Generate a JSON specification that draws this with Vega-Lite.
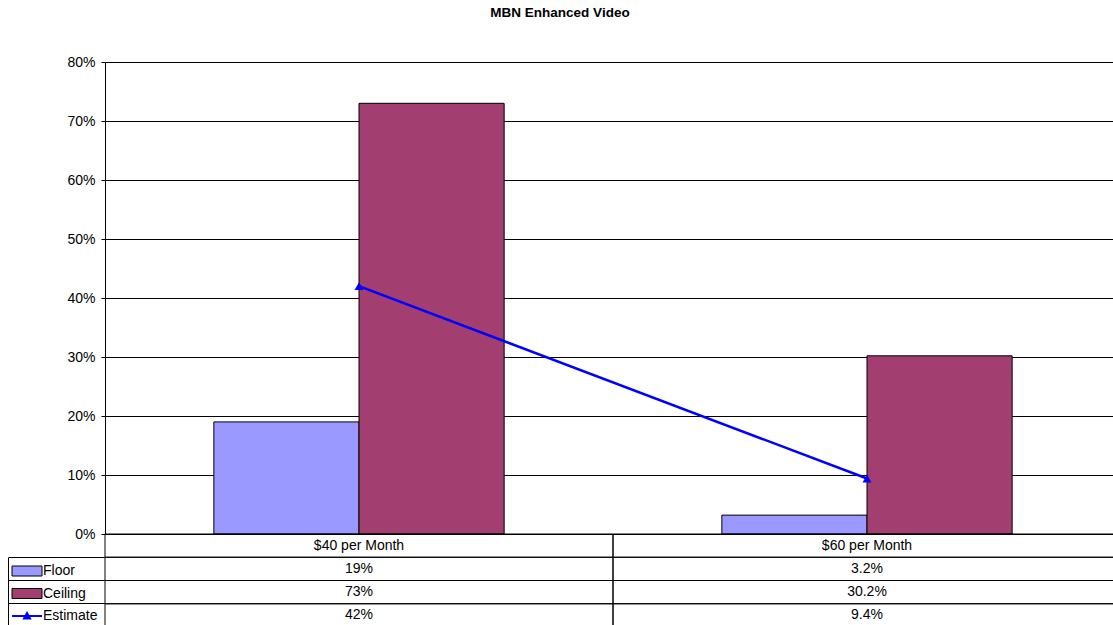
{
  "$schema": "https://vega.github.io/schema/vega-lite/v6.json",
  "width": 1008,
  "height": 563,
  "autosize": {"type": "none"},
  "padding": {"left": 105, "top": 62, "right": 0, "bottom": 0},
  "background": "white",
  "title": {
    "text": "MBN Enhanced Video",
    "font": "Liberation Sans",
    "fontSize": 13.5,
    "fontWeight": "bold",
    "color": "black",
    "anchor": "middle",
    "frame": "group",
    "dx": -49,
    "offset": 36
  },
  "config": {
    "font": "Liberation Sans",
    "view": {"stroke": null}
  },
  "datasets": {
    "values": [
      {"category": "$40 per Month", "series": "Floor", "value": 0.19, "label": "19%"},
      {"category": "$40 per Month", "series": "Ceiling", "value": 0.73, "label": "73%"},
      {"category": "$40 per Month", "series": "Estimate", "value": 0.42, "label": "42%"},
      {"category": "$60 per Month", "series": "Floor", "value": 0.032, "label": "3.2%"},
      {"category": "$60 per Month", "series": "Ceiling", "value": 0.302, "label": "30.2%"},
      {"category": "$60 per Month", "series": "Estimate", "value": 0.094, "label": "9.4%"}
    ],
    "categories": [
      {"category": "$40 per Month"},
      {"category": "$60 per Month"}
    ]
  },
  "data": {"name": "values"},
  "encoding": {
    "x": {
      "field": "category",
      "type": "nominal",
      "axis": null,
      "scale": {
        "domain": ["$40 per Month", "$60 per Month"],
        "range": [0, 1016],
        "paddingInner": 0,
        "paddingOuter": 0
      }
    }
  },
  "layer": [
    {
      "layer": [
        {
          "transform": [{"filter": "datum.series !== 'Estimate'"}],
          "mark": {"type": "bar", "stroke": "black", "strokeWidth": 1, "opacity": 1},
          "encoding": {
            "y": {
              "field": "value",
              "type": "quantitative",
              "scale": {"domain": [0, 0.8], "range": [472, 0], "nice": false, "zero": true},
              "axis": {
                "orient": "left",
                "title": null,
                "values": [0, 0.1, 0.2, 0.3, 0.4, 0.5, 0.6, 0.7, 0.8],
                "format": ".0%",
                "grid": true,
                "gridColor": "#000000",
                "gridOpacity": 1,
                "gridWidth": 1,
                "domain": true,
                "domainColor": "#000000",
                "domainWidth": 1,
                "ticks": true,
                "tickColor": "#000000",
                "tickSize": 4,
                "labelPadding": 6,
                "labelFont": "Liberation Sans",
                "labelFontSize": 14,
                "labelColor": "#000000"
              }
            },
            "xOffset": {
              "field": "series",
              "type": "nominal",
              "scale": {"domain": ["Floor", "Ceiling"], "paddingInner": 0, "paddingOuter": 0.75}
            },
            "color": {
              "field": "series",
              "type": "nominal",
              "scale": {
                "domain": ["Floor", "Ceiling", "Estimate"],
                "range": ["#9999FF", "#A23E70", "#0000FF"]
              },
              "legend": {
                "orient": "none",
                "legendX": -97,
                "legendY": 502,
                "title": null,
                "padding": 0,
                "symbolSize": 100,
                "symbolOffset": 12,
                "labelOffset": 9,
                "rowPadding": 8.5,
                "labelFont": "Liberation Sans",
                "labelFontSize": 14,
                "labelColor": "#000000",
                "symbolType": {"expr": "datum.value === 'Estimate' ? 'M-3,0H3M0,-0.6L0.6,0.5L-0.6,0.5Z' : 'M-3,-1H3V1H-3Z'"},
                "symbolFillColor": {"expr": "datum.value === 'Floor' ? '#9999FF' : datum.value === 'Ceiling' ? '#A23E70' : '#0000FF'"},
                "symbolStrokeColor": {"expr": "datum.value === 'Estimate' ? '#0000FF' : '#000000'"},
                "symbolStrokeWidth": {"expr": "datum.value === 'Estimate' ? 2 : 1"},
                "symbolOpacity": 1
              }
            }
          }
        },
        {
          "transform": [{"filter": "datum.series === 'Estimate'"}],
          "mark": {"type": "line", "color": "#0000FF", "strokeWidth": 2.5},
          "encoding": {
            "y": {"field": "value", "type": "quantitative"}
          }
        },
        {
          "transform": [{"filter": "datum.series === 'Estimate'"}],
          "mark": {"type": "point", "shape": "triangle-up", "filled": true, "color": "#0000FF", "size": 80, "opacity": 1},
          "encoding": {
            "y": {"field": "value", "type": "quantitative"}
          }
        }
      ]
    },
    {
      "layer": [
        {
          "mark": {"type": "rect", "fillOpacity": 0, "stroke": "#000000", "strokeWidth": 1},
          "encoding": {
            "y": {
              "field": "series",
              "type": "nominal",
              "scale": {
                "domain": ["header", "Floor", "Ceiling", "Estimate"],
                "range": [472, 565],
                "paddingInner": 0,
                "paddingOuter": 0
              },
              "axis": null
            }
          }
        },
        {
          "data": {"name": "categories"},
          "mark": {"type": "rect", "fillOpacity": 0, "stroke": "#000000", "strokeWidth": 1},
          "encoding": {
            "y": {"datum": "header", "type": "nominal"}
          }
        },
        {
          "mark": {"type": "text", "font": "Liberation Sans", "fontSize": 14, "color": "#000000"},
          "encoding": {
            "y": {"field": "series", "type": "nominal"},
            "text": {"field": "label"}
          }
        },
        {
          "data": {"name": "categories"},
          "mark": {"type": "text", "font": "Liberation Sans", "fontSize": 14, "color": "#000000"},
          "encoding": {
            "y": {"datum": "header", "type": "nominal"},
            "text": {"field": "category"}
          }
        }
      ]
    },
    {
      "mark": {"type": "tick", "opacity": 0},
      "encoding": {
        "y": {
          "field": "series",
          "type": "nominal",
          "scale": {
            "domain": ["Floor", "Ceiling", "Estimate"],
            "range": [495.25, 565],
            "paddingInner": 0,
            "paddingOuter": 0
          },
          "axis": {
            "orient": "left",
            "title": null,
            "offset": 97,
            "bandPosition": 0,
            "labels": false,
            "grid": false,
            "domain": true,
            "domainColor": "#000000",
            "ticks": true,
            "tickColor": "#000000",
            "tickSize": -97
          }
        }
      }
    }
  ],
  "resolve": {
    "scale": {"y": "independent"},
    "axis": {"y": "independent"}
  }
}
